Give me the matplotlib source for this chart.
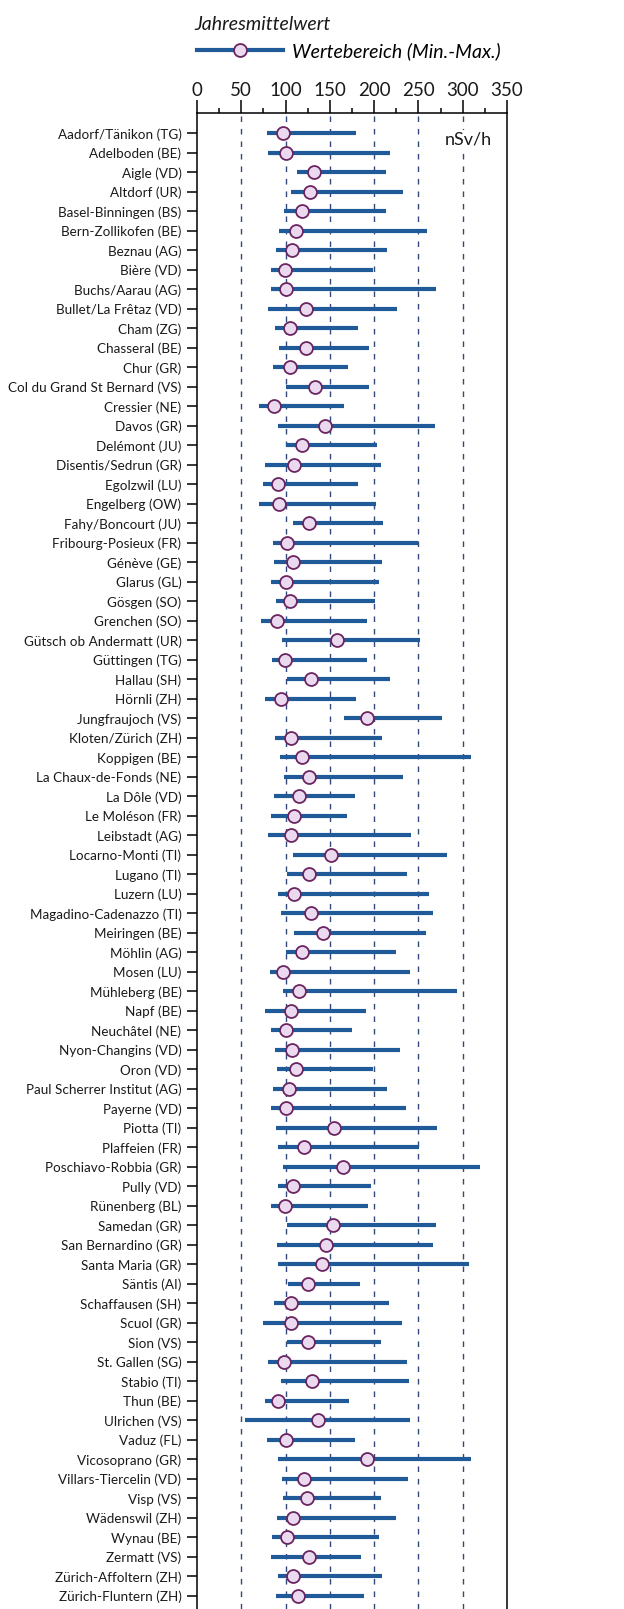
import matplotlib
matplotlib.use("Agg")
import matplotlib.pyplot as plt
from matplotlib.lines import Line2D
from matplotlib.ticker import MultipleLocator

plt.rcParams['font.family'] = ['Lato', 'DejaVu Sans']

# Stations, annual mean and min/max (nSv/h)
stations = [
    "Aadorf/Tänikon (TG)", "Adelboden (BE)", "Aigle (VD)", "Altdorf (UR)",
    "Basel-Binningen (BS)", "Bern-Zollikofen (BE)", "Beznau (AG)", "Bière (VD)",
    "Buchs/Aarau (AG)", "Bullet/La Frêtaz (VD)", "Cham (ZG)", "Chasseral (BE)",
    "Chur (GR)", "Col du Grand St Bernard (VS)", "Cressier (NE)", "Davos (GR)",
    "Delémont (JU)", "Disentis/Sedrun (GR)", "Egolzwil (LU)", "Engelberg (OW)",
    "Fahy/Boncourt (JU)", "Fribourg-Posieux (FR)", "Génève (GE)", "Glarus (GL)",
    "Gösgen (SO)", "Grenchen (SO)", "Gütsch ob Andermatt (UR)", "Güttingen (TG)",
    "Hallau (SH)", "Hörnli (ZH)", "Jungfraujoch (VS)", "Kloten/Zürich (ZH)",
    "Koppigen (BE)", "La Chaux-de-Fonds (NE)", "La Dôle (VD)", "Le Moléson (FR)",
    "Leibstadt (AG)", "Locarno-Monti (TI)", "Lugano (TI)", "Luzern (LU)",
    "Magadino-Cadenazzo (TI)", "Meiringen (BE)", "Möhlin (AG)", "Mosen (LU)",
    "Mühleberg (BE)", "Napf (BE)", "Neuchâtel (NE)", "Nyon-Changins (VD)",
    "Oron (VD)", "Paul Scherrer Institut (AG)", "Payerne (VD)", "Piotta (TI)",
    "Plaffeien (FR)", "Poschiavo-Robbia (GR)", "Pully (VD)", "Rünenberg (BL)",
    "Samedan (GR)", "San Bernardino (GR)", "Santa Maria (GR)", "Säntis (AI)",
    "Schaffausen (SH)", "Scuol (GR)", "Sion (VS)", "St. Gallen (SG)",
    "Stabio (TI)", "Thun (BE)", "Ulrichen (VS)", "Vaduz (FL)",
    "Vicosoprano (GR)", "Villars-Tiercelin (VD)", "Visp (VS)", "Wädenswil (ZH)",
    "Wynau (BE)", "Zermatt (VS)", "Zürich-Affoltern (ZH)", "Zürich-Fluntern (ZH)",
]
mins = [
    79, 80, 113, 106, 98, 93, 89, 84, 84, 80,
    88, 93, 86, 100, 70, 91, 100, 77, 75, 70,
    108, 86, 87, 83, 89, 72, 96, 85, 101.5, 77,
    166, 88, 94, 98.5, 86.5, 84, 80, 108, 102, 92,
    95, 109, 100, 82, 97, 77, 83, 88, 90, 86,
    83, 89, 92, 97, 92, 84, 101.5, 90, 91, 103,
    87, 75, 101.5, 80, 95, 77, 54.5, 79, 92, 96,
    97, 90, 85, 83, 91, 89.5,
]
maxs = [
    180, 218, 213, 233, 213, 260, 215, 199, 270, 226,
    182, 194, 170, 194, 166, 269, 203, 208, 182, 202,
    210, 249, 209, 205, 201, 192, 252, 192, 218, 179,
    277, 209, 309, 233, 178, 169, 242, 282, 237, 262,
    266, 259, 225, 241, 294, 191, 175, 229, 199, 215,
    236, 271, 251, 320, 197, 193, 270, 266, 307, 184,
    216.5, 231.5, 208, 237, 239, 172, 240, 178, 309, 238,
    208, 225, 206, 185, 209, 188,
]
means = [
    97, 101, 132, 128, 118, 112, 107, 99, 100, 123,
    104.5, 123, 105, 133, 87, 145, 119, 110, 91, 93,
    127, 102, 108, 100, 105, 90, 158, 99, 129, 95,
    192, 106, 119, 127, 115, 109, 106, 151, 127, 109,
    128.5, 142, 118, 97, 115, 106, 100, 107, 112, 104,
    100, 155, 121, 165, 108, 99, 153, 146, 141, 125,
    106, 106, 125, 98, 130, 92, 137, 100, 192, 121,
    124, 108, 101.5, 126, 108, 114,
]
xticks = [0, 50, 100, 150, 200, 250, 300, 350]

bar_color = '#205a98'
dot_face = '#ead9ef'
dot_edge = '#6b2560'
grid_color = '#34487a'
text_color = '#1a1a1a'

W, H = 624, 1609
fig = plt.figure(figsize=(W / 100, H / 100), dpi=100)
ax = fig.add_axes([197 / W, 0, 310 / W, (H - 113) / H])

ypos = list(range(len(stations)))

# dashed reference lines
for xv in xticks[1:-1]:
    ax.axvline(xv, color=grid_color, lw=1.0, ls=(0, (4, 5)), zorder=1)

ax.hlines(ypos, mins, maxs, color=bar_color, lw=3.0, zorder=2)
ax.plot(means, ypos, 'o', ms=9.3, mfc=dot_face, mec=dot_edge, mew=1.3,
        ls='none', zorder=3)

ax.set_xlim(0, 350)
ax.set_ylim(75.68, -1.04)
ax.set_yticks(ypos)
ax.set_yticklabels(stations, fontsize=9.7, color=text_color)
ax.set_xticks(xticks)
ax.xaxis.set_minor_locator(MultipleLocator(25))
ax.xaxis.tick_top()
ax.tick_params(axis='x', which='major', length=9.4, width=1.1, labelsize=13.5,
               pad=1, direction='out', labelcolor=text_color)
ax.tick_params(axis='x', which='minor', length=3.6, width=1.1, direction='out')
ax.tick_params(axis='y', length=7.2, width=1.1, pad=4, direction='out')
ax.spines['bottom'].set_visible(False)
for s in ['left', 'top', 'right']:
    ax.spines[s].set_linewidth(1.1)

ax.text(0.952, 0.982, 'nSv/h', transform=ax.transAxes, ha='right',
        va='center', fontsize=13, color=text_color, zorder=4,
        bbox=dict(facecolor='white', edgecolor='none', pad=1))

# legend
handle = Line2D([], [], color=bar_color, lw=3.0, marker='o', ms=9.3,
                mfc=dot_face, mec=dot_edge, mew=1.3)
fig.legend([handle], ['Wertebereich (Min.-Max.)'], loc='center left',
           bbox_to_anchor=(197 / W, 1 - 51 / H), frameon=False,
           handlelength=4.4, handletextpad=0.5, borderpad=0, borderaxespad=0,
           prop={'style': 'italic', 'size': 14})
fig.text(194 / W, 1 - 25 / H, 'Jahresmittelwert', ha='left', va='center',
         fontsize=14, style='italic', color=text_color)

plt.savefig('out.png', dpi=100)
